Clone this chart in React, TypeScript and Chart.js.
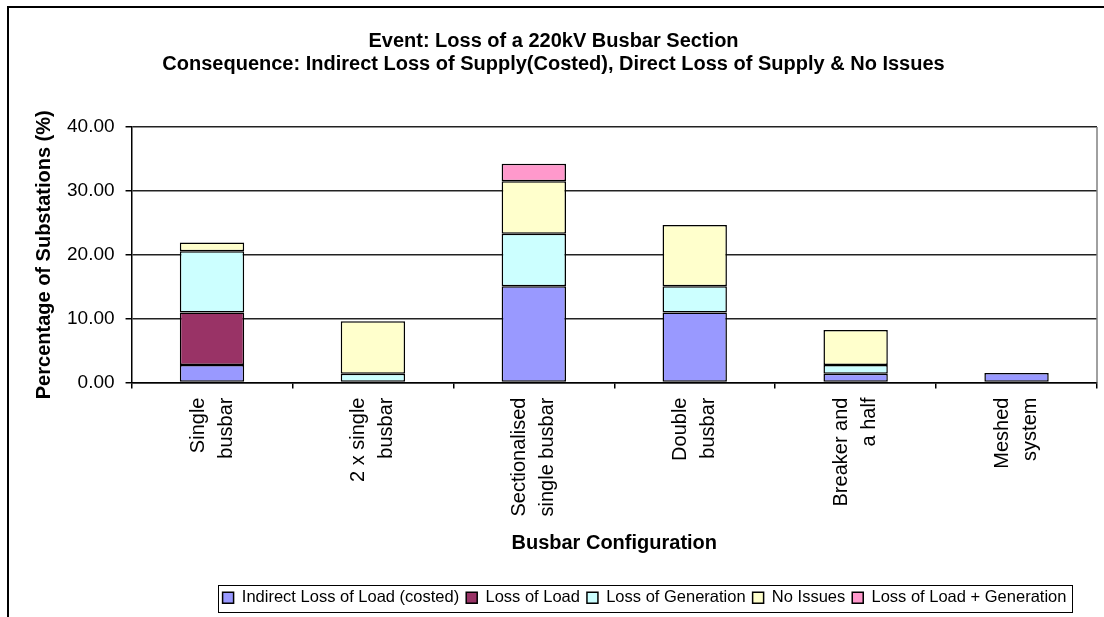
import React, { useEffect, useRef } from "react";
import { Chart, registerables } from "chart.js";

Chart.register(...registerables);

const titleLines = [
  "Event: Loss of a 220kV Busbar Section",
  "Consequence: Indirect Loss of Supply(Costed), Direct Loss of Supply & No Issues",
];
const categories = [
  ["Single", "busbar"],
  ["2 x single", "busbar"],
  ["Sectionalised", "single busbar"],
  ["Double", "busbar"],
  ["Breaker and", "a half"],
  ["Meshed", "system"],
];
const seriesNames = [
  "Indirect Loss of Load (costed)",
  "Loss of Load",
  "Loss of Generation",
  "No Issues",
  "Loss of Load + Generation",
];
const indirectLossOfLoad = [2.74, null, 15.07, 10.96, 1.37, 1.5];
const lossOfLoad = [8.22, null, null, null, null, null];
const lossOfGeneration = [9.59, 1.37, 8.22, 4.11, 1.37, null];
const noIssues = [1.37, 8.22, 8.22, 9.59, 5.48, null];
const lossOfLoadAndGeneration = [null, null, 2.74, null, null, null];
const seriesColors = ["#9999FF", "#993366", "#CCFFFF", "#FFFFCC", "#FF99CC"];
const yMin = 0;
const yMax = 40;
const yStep = 10;
const yAxisTitle = "Percentage of Substations (%)";
const xAxisTitle = "Busbar Configuration";

const FONT = "'Liberation Sans', Arial, sans-serif";

const framePlugin = {
  id: "framePlugin",
  afterLayout(chart: any) {
    const lg = chart.legend;
    if (lg) {
      lg.left += 91;
      lg.right += 91;
      lg.top += 2;
      lg.bottom += 2;
    }
  },
  beforeDraw(chart: any) {
    const ctx = chart.ctx;
    ctx.save();
    ctx.fillStyle = "#ffffff";
    ctx.fillRect(0, 0, chart.width, chart.height);
    ctx.fillStyle = "#000000";
    ctx.fillRect(7, 6, 2, chart.height);
    ctx.fillRect(7, 6, chart.width, 2);
    ctx.restore();
  },
  afterDraw(chart: any) {
    const ctx = chart.ctx;
    const a = chart.chartArea;
    ctx.save();
    ctx.strokeStyle = "#808080";
    ctx.lineWidth = 1.5;
    ctx.beginPath();
    ctx.moveTo(a.right, a.top);
    ctx.lineTo(a.right, a.bottom);
    ctx.stroke();
    const lg = chart.legend;
    if (lg && lg.legendHitBoxes && lg.legendHitBoxes.length) {
      const hb = lg.legendHitBoxes;
      let l = Infinity, r = -Infinity, t = Infinity, b = -Infinity;
      hb.forEach((h: any) => {
        l = Math.min(l, h.left);
        r = Math.max(r, h.left + h.width);
        t = Math.min(t, h.top);
        b = Math.max(b, h.top + h.height);
      });
      ctx.strokeStyle = "#000000";
      ctx.lineWidth = 1;
      ctx.strokeRect(Math.round(l - 5) + 0.5, Math.round(t - 5) + 0.5, Math.round(r - l + 10), Math.round(b - t + 10));
    }
    ctx.restore();
  },
};

export default function App() {
  const ref = useRef<HTMLCanvasElement | null>(null);
  useEffect(() => {
    if (!ref.current) return;
    const seriesData = [indirectLossOfLoad, lossOfLoad, lossOfGeneration, noIssues, lossOfLoadAndGeneration];
    const chart = new Chart(ref.current, {
      type: "bar",
      data: {
        labels: categories,
        datasets: seriesNames.map((name, i) => ({
          label: name,
          data: seriesData[i],
          backgroundColor: seriesColors[i],
          borderColor: "#000000",
          borderWidth: 1.5,
          borderSkipped: false,
          categoryPercentage: 1,
          barPercentage: 0.4,
        })),
      },
      options: {
        responsive: false,
        animation: false,
        devicePixelRatio: 1,
        layout: { padding: { top: 8, left: 10, right: 7, bottom: 3 } },
        plugins: {
          tooltip: { enabled: false },
          title: {
            display: true,
            text: titleLines,
            color: "#000000",
            font: { family: FONT, size: 20, weight: "bold", lineHeight: 1.15 },
            padding: { top: 22, bottom: 51 },
          },
          legend: {
            position: "bottom",
            labels: {
              color: "#000000",
              font: { family: FONT, size: 16.5 },
              boxWidth: 11,
              boxHeight: 11,
              padding: 7,
            },
          },
        },
        scales: {
          x: {
            stacked: true,
            offset: true,
            grid: {
              display: true,
              drawOnChartArea: false,
              drawTicks: true,
              tickLength: 6,
              color: "#000000",
              lineWidth: 1.5,
              offset: true,
            },
            border: { display: true, color: "#000000", width: 1.5 },
            ticks: {
              color: "#000000",
              font: { family: FONT, size: 20, lineHeight: 1.4 },
              maxRotation: 90,
              minRotation: 90,
              autoSkip: false,
              padding: 9,
              labelOffset: -14,
            },
            title: {
              display: true,
              text: xAxisTitle,
              color: "#000000",
              font: { family: FONT, size: 20, weight: "bold", lineHeight: 1.2 },
              padding: { top: 6, bottom: 25 },
            },
          },
          y: {
            stacked: true,
            min: yMin,
            max: yMax,
            grid: {
              color: "#222222",
              lineWidth: 1.5,
              drawTicks: true,
              tickLength: 6,
              tickColor: "#000000",
            },
            border: { display: true, color: "#000000", width: 1.5 },
            ticks: {
              stepSize: yStep,
              color: "#000000",
              font: { family: FONT, size: 19 },
              padding: 11,
              callback: (v: any) => Number(v).toFixed(2),
            },
            title: {
              display: true,
              text: yAxisTitle,
              color: "#000000",
              font: { family: FONT, size: 20, weight: "bold", lineHeight: 1.2 },
              padding: { top: 22, bottom: 0 },
            },
          },
        },
      },
      plugins: [framePlugin],
    } as any);
    return () => chart.destroy();
  }, []);
  return (
    <div style={{ position: "fixed", left: 0, top: 0, width: 1104, height: 617, background: "#fff" }}>
      <canvas ref={ref} width={1104} height={617} style={{ display: "block" }} />
    </div>
  );
}
